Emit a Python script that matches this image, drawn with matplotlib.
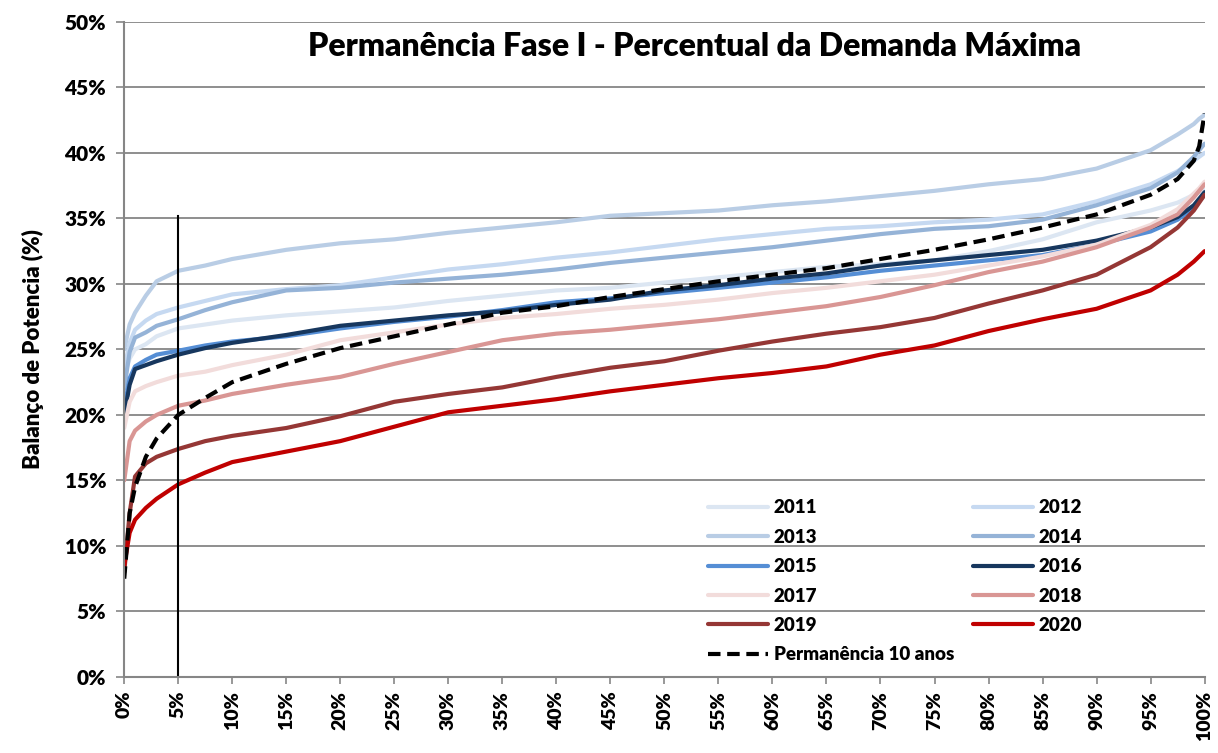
import matplotlib
matplotlib.use("Agg")
import matplotlib.pyplot as plt
from matplotlib.ticker import FuncFormatter

plt.rcParams['font.family'] = ['Lato', 'DejaVu Sans']
PESO = 'heavy'

# percentual do tempo (%)
perc = [0, 0.5, 1, 2, 3, 5, 7.5, 10, 15, 20, 25, 30, 35, 40, 45, 50,
        55, 60, 65, 70, 75, 80, 85, 90, 95, 97.5, 99, 99.5, 100]

a2011 = [23.0, 24.3, 25.0, 25.4, 26.0, 26.6, 26.9, 27.2, 27.6, 27.9, 28.2, 28.7, 29.1, 29.5, 29.7,
         30.1, 30.5, 30.9, 31.3, 31.5, 31.8, 32.5, 33.4, 34.7, 35.6, 36.2, 36.8, 37.0, 37.2]
a2012 = [23.5, 25.5, 26.5, 27.2, 27.7, 28.2, 28.7, 29.2, 29.6, 29.9, 30.5, 31.1, 31.5, 32.0, 32.4,
         32.9, 33.4, 33.8, 34.2, 34.4, 34.7, 34.9, 35.3, 36.3, 37.6, 38.6, 39.4, 39.7, 40.0]
a2013 = [25.0, 26.9, 27.8, 29.1, 30.2, 31.0, 31.4, 31.9, 32.6, 33.1, 33.4, 33.9, 34.3, 34.7, 35.2,
         35.4, 35.6, 36.0, 36.3, 36.7, 37.1, 37.6, 38.0, 38.8, 40.2, 41.4, 42.2, 42.6, 42.9]
a2014 = [22.0, 24.8, 25.9, 26.3, 26.8, 27.3, 28.0, 28.6, 29.5, 29.7, 30.1, 30.4, 30.7, 31.1, 31.6,
         32.0, 32.4, 32.8, 33.3, 33.8, 34.2, 34.4, 34.9, 36.0, 37.3, 38.5, 39.7, 40.2, 40.7]
a2015 = [20.5, 22.8, 23.7, 24.2, 24.6, 24.9, 25.3, 25.6, 26.0, 26.6, 27.1, 27.5, 28.0, 28.6, 28.9,
         29.3, 29.7, 30.1, 30.5, 31.0, 31.4, 31.8, 32.2, 33.0, 34.0, 34.9, 35.8, 36.3, 36.8]
a2016 = [20.0, 22.3, 23.5, 23.8, 24.1, 24.6, 25.1, 25.5, 26.1, 26.8, 27.2, 27.6, 27.9, 28.4, 28.8,
         29.5, 29.9, 30.4, 30.8, 31.4, 31.8, 32.2, 32.6, 33.3, 34.3, 35.1, 36.0, 36.5, 37.0]
a2017 = [19.0, 21.0, 21.8, 22.2, 22.5, 23.0, 23.3, 23.8, 24.6, 25.7, 26.3, 26.9, 27.4, 27.7, 28.1,
         28.4, 28.8, 29.3, 29.7, 30.2, 30.7, 31.4, 32.1, 33.0, 34.5, 35.7, 36.9, 37.3, 37.8]
a2018 = [15.0, 18.0, 18.8, 19.5, 20.0, 20.7, 21.1, 21.6, 22.3, 22.9, 23.9, 24.8, 25.7, 26.2, 26.5,
         26.9, 27.3, 27.8, 28.3, 29.0, 29.9, 30.9, 31.7, 32.8, 34.3, 35.3, 36.6, 37.1, 37.6]
a2019 = [8.0, 12.5, 15.3, 16.3, 16.8, 17.4, 18.0, 18.4, 19.0, 19.9, 21.0, 21.6, 22.1, 22.9, 23.6,
         24.1, 24.9, 25.6, 26.2, 26.7, 27.4, 28.5, 29.5, 30.7, 32.8, 34.3, 35.6, 36.2, 36.8]
a2020 = [8.5, 11.0, 12.0, 12.9, 13.6, 14.7, 15.6, 16.4, 17.2, 18.0, 19.1, 20.2, 20.7, 21.2, 21.8,
         22.3, 22.8, 23.2, 23.7, 24.6, 25.3, 26.4, 27.3, 28.1, 29.5, 30.7, 31.7, 32.1, 32.5]
perm10 = [7.5, 12.5, 14.5, 16.8, 18.2, 20.0, 21.3, 22.5, 23.9, 25.1, 26.0, 26.9, 27.8, 28.3, 29.0,
          29.6, 30.2, 30.7, 31.2, 31.9, 32.6, 33.4, 34.3, 35.3, 36.8, 38.0, 39.4, 40.5, 43.0]

anos = ["2011", "2012", "2013", "2014", "2015", "2016", "2017", "2018", "2019", "2020"]
series = [a2011, a2012, a2013, a2014, a2015, a2016, a2017, a2018, a2019, a2020]
cores = ["#DCE6F2", "#C6D9F1", "#B9CDE5", "#95B3D7", "#558ED5",
         "#17375E", "#F2DCDB", "#D99694", "#953735", "#C00000"]

fig = plt.figure(figsize=(12.18, 7.53), dpi=100)
ax = fig.add_axes([0.102, 0.101, 0.887, 0.870])

linhas = {}
for ano, vals, cor in zip(anos, series, cores):
    linhas[ano], = ax.plot(perc, vals, color=cor, linewidth=3, label=ano,
                           solid_capstyle='round', solid_joinstyle='round')
perm_line, = ax.plot(perc, perm10, color='black', linewidth=3, linestyle=(0, (3, 1.6)),
                     label="Permanência 10 anos")

# linha vertical em 5%
ax.plot([5, 5], [0, 35.2], color='black', linewidth=1.5)

ax.set_xlim(0, 100)
ax.set_ylim(0, 50)
ax.set_xticks(range(0, 101, 5))
ax.set_yticks(range(0, 51, 5))
pct = FuncFormatter(lambda v, p: f"{int(v)}%")
ax.xaxis.set_major_formatter(pct)
ax.yaxis.set_major_formatter(pct)
ax.tick_params(axis='x', labelrotation=90, labelsize=14, length=5, color='#868686', width=1.2, pad=5)
ax.tick_params(axis='y', labelsize=15, length=6, color='#868686', width=1.2, pad=7)
for lbl in ax.get_xticklabels() + ax.get_yticklabels():
    lbl.set_fontweight(PESO)

ax.grid(True, axis='y', color='#868686', linewidth=1.3)
ax.set_axisbelow(True)
for s in ['top', 'right']:
    ax.spines[s].set_visible(False)
for s in ['left', 'bottom']:
    ax.spines[s].set_color('#868686')
    ax.spines[s].set_linewidth(1.5)

ax.set_ylabel("Balanço de Potencia (%)", fontsize=16, fontweight=PESO, labelpad=15)
ax.text(0.528, 0.962, "Permanência Fase I - Percentual da Demanda Máxima", transform=ax.transAxes,
        ha='center', va='center', fontsize=23, fontweight=PESO)

ordem = ["2011", "2013", "2015", "2017", "2019"]
handles = [linhas[a] for a in ordem] + [perm_line] + [linhas[a] for a in ["2012", "2014", "2016", "2018", "2020"]]
leg = ax.legend(handles=handles, labels=[h.get_label() for h in handles], ncol=2, frameon=False,
                loc='lower left', bbox_to_anchor=(0.525, -0.005), fontsize=13.5, handlelength=3.2,
                labelspacing=0.66, columnspacing=1.0, handletextpad=0.3)
for t in leg.get_texts():
    t.set_fontweight(PESO)

plt.savefig("out.png", dpi=100)
